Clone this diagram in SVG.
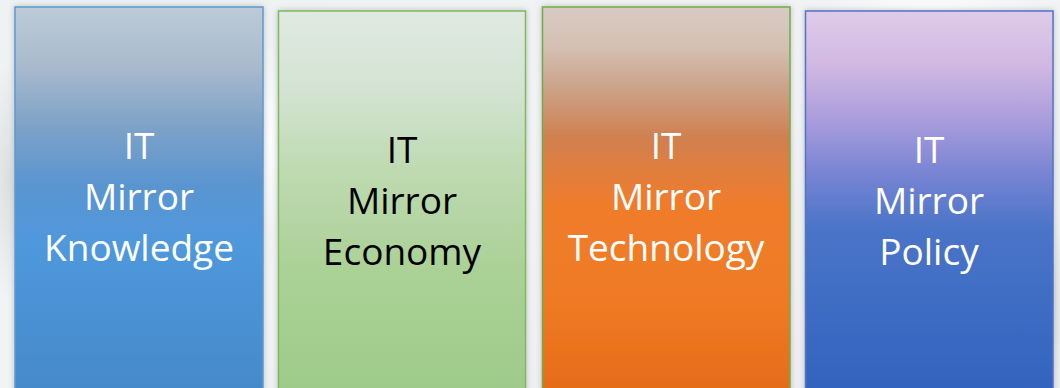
<svg xmlns="http://www.w3.org/2000/svg" width="1060" height="388" viewBox="0 0 1060 388">
  <defs>
    <linearGradient id="bg" x1="0" y1="0" x2="1" y2="1">
      <stop offset="0" stop-color="#eef2f2"/>
      <stop offset="0.5" stop-color="#f2f3f5"/>
      <stop offset="1" stop-color="#ecedef"/>
    </linearGradient>
    <radialGradient id="cloud" cx="0.5" cy="0.5" r="0.5">
      <stop offset="0" stop-color="#ffffff" stop-opacity="0.9"/>
      <stop offset="1" stop-color="#ffffff" stop-opacity="0"/>
    </radialGradient>
    <radialGradient id="grey" cx="0.5" cy="0.5" r="0.5">
      <stop offset="0" stop-color="#d4d6d8" stop-opacity="0.7"/>
      <stop offset="1" stop-color="#d4d6d8" stop-opacity="0"/>
    </radialGradient>
    <linearGradient id="g1" x1="0" y1="0" x2="0" y2="1">
      <stop offset="0" stop-color="#bccbd6"/>
      <stop offset="0.15" stop-color="#a9bacd"/>
      <stop offset="0.3" stop-color="#7ea2c8"/>
      <stop offset="0.45" stop-color="#5a95d0"/>
      <stop offset="0.6" stop-color="#4f98dc"/>
      <stop offset="1" stop-color="#4489c8"/>
    </linearGradient>
    <linearGradient id="g2" x1="0" y1="0" x2="0" y2="1">
      <stop offset="0" stop-color="#e0e9e2"/>
      <stop offset="0.2" stop-color="#d3e3d2"/>
      <stop offset="0.4" stop-color="#bfdab2"/>
      <stop offset="0.65" stop-color="#abd197"/>
      <stop offset="1" stop-color="#9dca88"/>
    </linearGradient>
    <linearGradient id="g3" x1="0" y1="0" x2="0" y2="1">
      <stop offset="0" stop-color="#d8cbc4"/>
      <stop offset="0.1" stop-color="#d4c0b3"/>
      <stop offset="0.2" stop-color="#cca48c"/>
      <stop offset="0.33" stop-color="#d08050"/>
      <stop offset="0.5" stop-color="#f07c2c"/>
      <stop offset="0.75" stop-color="#ef7a24"/>
      <stop offset="1" stop-color="#e36a17"/>
    </linearGradient>
    <linearGradient id="g4" x1="0" y1="0" x2="0" y2="1">
      <stop offset="0" stop-color="#dfcbe8"/>
      <stop offset="0.14" stop-color="#d0b8e2"/>
      <stop offset="0.28" stop-color="#a89cdc"/>
      <stop offset="0.4" stop-color="#7c86d4"/>
      <stop offset="0.55" stop-color="#4a74c8"/>
      <stop offset="1" stop-color="#2f62bd"/>
    </linearGradient>
    <filter id="sh" x="-10%" y="-10%" width="120%" height="120%">
      <feDropShadow dx="0" dy="0" stdDeviation="3" flood-color="#7a7a7a" flood-opacity="0.45"/>
    </filter>
  </defs>
  <style>
    .box { stroke-width: 1.5; filter: url(#sh); }
    .lbl { font-family: "Open Sans", "Liberation Sans", sans-serif; font-size: 37px; text-anchor: middle; }
    .w { fill: #ffffff; }
    .k { fill: #000000; }
  </style>
  <rect x="0" y="0" width="1060" height="388" fill="url(#bg)"/>
  <ellipse cx="8" cy="180" rx="20" ry="120" fill="url(#grey)"/>
  <ellipse cx="270" cy="140" rx="14" ry="100" fill="url(#cloud)"/>
  <ellipse cx="1050" cy="300" rx="16" ry="90" fill="url(#grey)"/>
  <ellipse cx="930" cy="10" rx="120" ry="18" fill="url(#cloud)"/>

  <g id="node-knowledge">
    <rect class="box" x="15" y="7" width="248" height="395" fill="url(#g1)" stroke="#5b9bd5"/>
    <text class="lbl w" x="139" y="159">IT</text>
    <text class="lbl w" x="139" y="210">Mirror</text>
    <text class="lbl w" x="139" y="261">Knowledge</text>
  </g>
  <g id="node-economy">
    <rect class="box" x="278.5" y="11" width="247" height="395" fill="url(#g2)" stroke="#7dbb5c"/>
    <text class="lbl k" x="402" y="163">IT</text>
    <text class="lbl k" x="402" y="214">Mirror</text>
    <text class="lbl k" x="402" y="265">Economy</text>
  </g>
  <g id="node-technology">
    <rect class="box" x="542.5" y="7" width="247.5" height="395" fill="url(#g3)" stroke="#70ad47"/>
    <text class="lbl w" x="666" y="159">IT</text>
    <text class="lbl w" x="666" y="210">Mirror</text>
    <text class="lbl w" x="666" y="261">Technology</text>
  </g>
  <g id="node-policy">
    <rect class="box" x="805.5" y="11" width="247.5" height="395" fill="url(#g4)" stroke="#4f74c8"/>
    <text class="lbl w" x="929" y="163">IT</text>
    <text class="lbl w" x="929" y="214">Mirror</text>
    <text class="lbl w" x="929" y="265">Policy</text>
  </g>
  <g id="connectors"></g>
</svg>
